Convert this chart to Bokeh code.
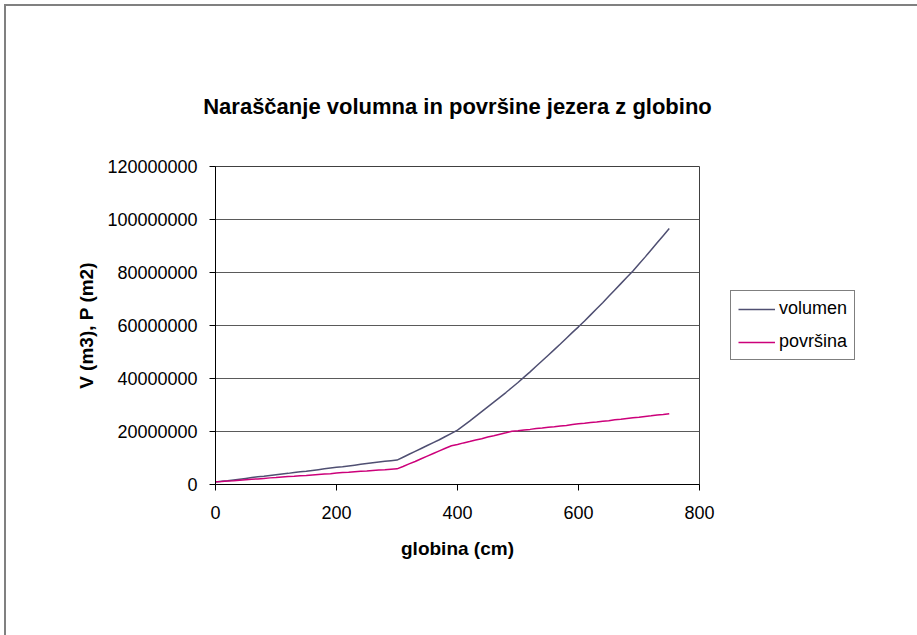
from bokeh.plotting import figure
from bokeh.models import Range1d, SingleIntervalTicker, BasicTickFormatter, Legend, LegendItem
from bokeh.embed import file_html
from bokeh.resources import INLINE

# depth (cm)
globina = [0, 10, 20, 30, 40, 50, 60, 70, 80, 90,
           100, 110, 120, 130, 140, 150, 160, 170, 180, 190,
           200, 210, 220, 230, 240, 250, 260, 270, 280, 290,
           300, 310, 320, 330, 340, 350, 360, 370, 380, 390,
           400, 410, 420, 430, 440, 450, 460, 470, 480, 490,
           500, 510, 520, 530, 540, 550, 560, 570, 580, 590,
           600, 610, 620, 630, 640, 650, 660, 670, 680, 690,
           700, 710, 720, 730, 740, 750]

# volume (m3)
volumen = [900000, 1200000, 1400000, 1700000, 2000000, 2300000, 2600000, 2900000, 3100000, 3400000,
           3700000, 4000000, 4200000, 4500000, 4800000, 5000000, 5300000, 5600000, 5900000, 6200000,
           6500000, 6700000, 7000000, 7300000, 7600000, 7900000, 8200000, 8500000, 8800000, 9000000,
           9200000, 10300000, 11400000, 12500000, 13600000, 14700000, 15800000, 16900000, 18100000, 19300000,
           20500000, 22200000, 23900000, 25700000, 27500000, 29300000, 31100000, 32900000, 34700000, 36600000,
           38500000, 40500000, 42500000, 44600000, 46700000, 48800000, 50900000, 53000000, 55200000, 57400000,
           59500000, 61700000, 64000000, 66300000, 68600000, 71000000, 73400000, 75800000, 78200000, 80600000,
           83200000, 85800000, 88500000, 91200000, 93900000, 96600000]

# surface (m2)
povrsina = [1000000, 1100000, 1300000, 1400000, 1600000, 1800000, 2000000, 2100000, 2300000, 2500000,
            2600000, 2800000, 3000000, 3100000, 3300000, 3400000, 3600000, 3800000, 4000000, 4100000,
            4300000, 4500000, 4600000, 4800000, 5000000, 5100000, 5300000, 5500000, 5600000, 5800000,
            5900000, 6800000, 7800000, 8700000, 9700000, 10700000, 11700000, 12700000, 13700000, 14600000,
            15100000, 15700000, 16200000, 16800000, 17300000, 17900000, 18400000, 19000000, 19500000, 20100000,
            20300000, 20600000, 20800000, 21100000, 21300000, 21600000, 21800000, 22100000, 22300000, 22600000,
            22900000, 23100000, 23400000, 23600000, 23900000, 24100000, 24400000, 24600000, 24900000, 25200000,
            25400000, 25700000, 25900000, 26200000, 26400000, 26700000]

title_text = "Naraščanje volumna in površine jezera z globino"
x_label = "globina (cm)"
y_label = "V (m3), P (m2)"
series_names = ["volumen", "površina"]

FONT = "Liberation Sans"

p = figure(frame_width=484, frame_height=318, output_backend="svg", toolbar_location=None,
           x_range=Range1d(0, 800), y_range=Range1d(0, 120000000),
           min_border_left=209, min_border_right=218, min_border_top=160, min_border_bottom=151)

p.styles = {"margin-left": "4px", "margin-top": "4px",
            "border-left": "2px solid #808080", "border-top": "2px solid #808080"}

p.background_fill_color = "white"
p.border_fill_color = "white"
p.outline_line_color = "#404040"
p.outline_line_width = 1

p.title.text = title_text
p.title.align = "center"
p.title.text_font = FONT
p.title.text_font_size = "22px"
p.title.text_font_style = "bold"
p.title.text_color = "black"
p.title.standoff = 95

l1 = p.line(globina, volumen, line_color="#4F4F72", line_width=1.5)
l2 = p.line(globina, povrsina, line_color="#CC007A", line_width=1.5)

p.xgrid.visible = False
p.ygrid.grid_line_color = "#5a5a5a"
p.ygrid.grid_line_width = 1
p.ygrid.ticker = SingleIntervalTicker(interval=20000000)

p.xaxis.ticker = SingleIntervalTicker(interval=200)
p.yaxis.ticker = SingleIntervalTicker(interval=20000000)
p.yaxis.formatter = BasicTickFormatter(use_scientific=False)

for ax in (p.xaxis[0], p.yaxis[0]):
    ax.axis_line_color = "black"
    ax.major_tick_line_color = "black"
    ax.major_tick_out = 6
    ax.major_tick_in = 0
    ax.minor_tick_line_color = None
    ax.major_label_text_font = FONT
    ax.major_label_text_font_size = "18px"
    ax.major_label_text_color = "black"
    ax.axis_label_text_font = FONT
    ax.axis_label_text_font_size = "19px"
    ax.axis_label_text_font_style = "bold"
    ax.axis_label_text_color = "black"

p.xaxis.axis_label = x_label
p.yaxis.axis_label = y_label
p.xaxis.major_label_standoff = 15
p.yaxis.major_label_standoff = 12
p.xaxis.axis_label_standoff = 16
p.yaxis.axis_label_standoff = 7

legend = Legend(items=[LegendItem(label=series_names[0], renderers=[l1]),
                       LegendItem(label=series_names[1], renderers=[l2])],
                location="center_left")
legend.label_text_font = FONT
legend.label_text_font_size = "18px"
legend.label_text_color = "black"
legend.glyph_width = 37
legend.glyph_height = 20
legend.label_height = 20
legend.label_standoff = 4
legend.spacing = 12
legend.padding = 7
legend.margin = 31
legend.border_line_color = "black"
legend.border_line_width = 1
legend.background_fill_color = "white"
legend.background_fill_alpha = 1
p.add_layout(legend, "right")

open("out.html", "w").write(file_html(p, INLINE))
